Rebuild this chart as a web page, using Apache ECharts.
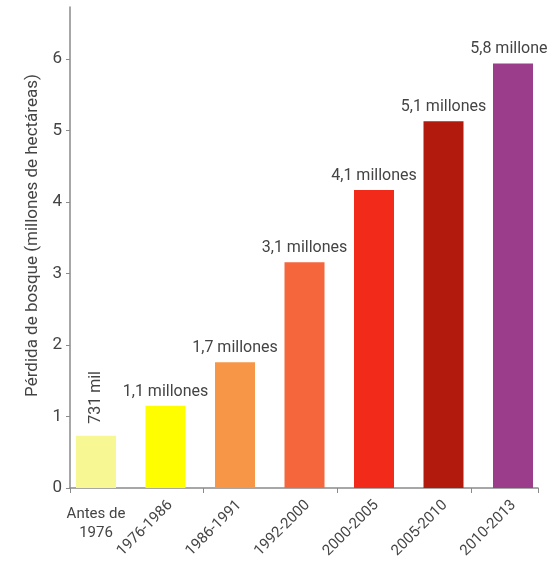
<!DOCTYPE html>
<html><head><meta charset="utf-8">
<script src="https://cdn.jsdelivr.net/npm/echarts@6/dist/echarts.min.js"></script>
<style>html,body{margin:0;padding:0;background:#fff}#c{width:548px;height:561px}</style>
</head><body><div id="c"></div>
<script>
const categories = ['Antes de\n1976', '1976-1986', '1986-1991', '1992-2000', '2000-2005', '2005-2010', '2010-2013'];
const values = [0.731, 1.15, 1.76, 3.16, 4.17, 5.13, 5.94];
const valueLabels = ['731 mil', '1,1 millones', '1,7 millones', '3,1 millones', '4,1 millones', '5,1 millones', '5,8 millones'];
const barColors = ['#f7f794', '#fefe00', '#f79646', '#f5663c', '#f22a1a', '#b21a0e', '#9c3d8c'];
const yTicks = [0, 1, 2, 3, 4, 5, 6];
const yName = 'Pérdida de bosque (millones de hectáreas)';

const FONT = 'Roboto';
const TXT = '#444';
const AX = '#8a8a8a';
const chart = echarts.init(document.getElementById('c'), null, {renderer: 'canvas'});
chart.setOption({
  animation: false,
  grid: [
    {left: 61.25, right: 0.25, top: 7, bottom: 73},
    {left: 70, right: 10, top: 7, bottom: 73},
    {left: 67.25, right: -5.75, top: 7, bottom: 73}
  ],
  xAxis: [
    {type: 'category', gridIndex: 2, data: categories,
     axisLine: {show: false}, axisTick: {show: false},
     axisLabel: {interval: 0, rotate: 45, margin: 21, fontFamily: FONT, fontSize: 15, color: TXT,
       formatter: (v, i) => i === 0 ? '' : v}},
    {type: 'category', gridIndex: 0, data: categories, position: 'bottom',
     axisLine: {show: false}, axisTick: {show: false},
     axisLabel: {interval: 0, rotate: 0, margin: 17, fontFamily: FONT, fontSize: 15, color: TXT, lineHeight: 19,
       formatter: (v, i) => i === 0 ? v : ''}},
    {type: 'category', gridIndex: 1, data: categories, boundaryGap: true,
     axisLine: {show: true, lineStyle: {color: AX, width: 1.5}},
     axisTick: {show: true, length: 5, lineStyle: {color: AX}},
     axisLabel: {show: false}}
  ],
  yAxis: [
    {type: 'value', gridIndex: 0, min: 0, max: 6.73, interval: 1, show: false, splitLine: {show: false}},
    {type: 'value', gridIndex: 1, min: 0, max: 6.73, interval: 1,
     name: yName, nameLocation: 'middle', nameGap: 25,
     nameTextStyle: {fontFamily: FONT, fontSize: 17, color: TXT, padding: [0, 0, 0, 24]},
     axisLine: {show: true, lineStyle: {color: AX, width: 1.5}},
     axisTick: {show: true, length: 4, lineStyle: {color: AX}, customValues: yTicks},
     axisLabel: {fontFamily: FONT, fontSize: 17, color: TXT, margin: 8, customValues: yTicks},
     splitLine: {show: false}},
    {type: 'value', gridIndex: 2, min: 0, max: 6.73, show: false, splitLine: {show: false}}
  ],
  series: [{
    type: 'bar', xAxisIndex: 1, yAxisIndex: 0, barWidth: 40,
    data: values.map((v, i) => ({
      value: v,
      itemStyle: {color: barColors[i]},
      label: i === 0
        ? {show: true, position: 'top', rotate: 90, align: 'left', verticalAlign: 'middle', distance: 12,
           formatter: valueLabels[i], fontFamily: FONT, fontSize: 16, color: TXT}
        : {show: true, position: 'top', distance: 6, formatter: valueLabels[i], fontFamily: FONT, fontSize: 16, color: TXT}
    }))
  }]
});
</script></body></html>
